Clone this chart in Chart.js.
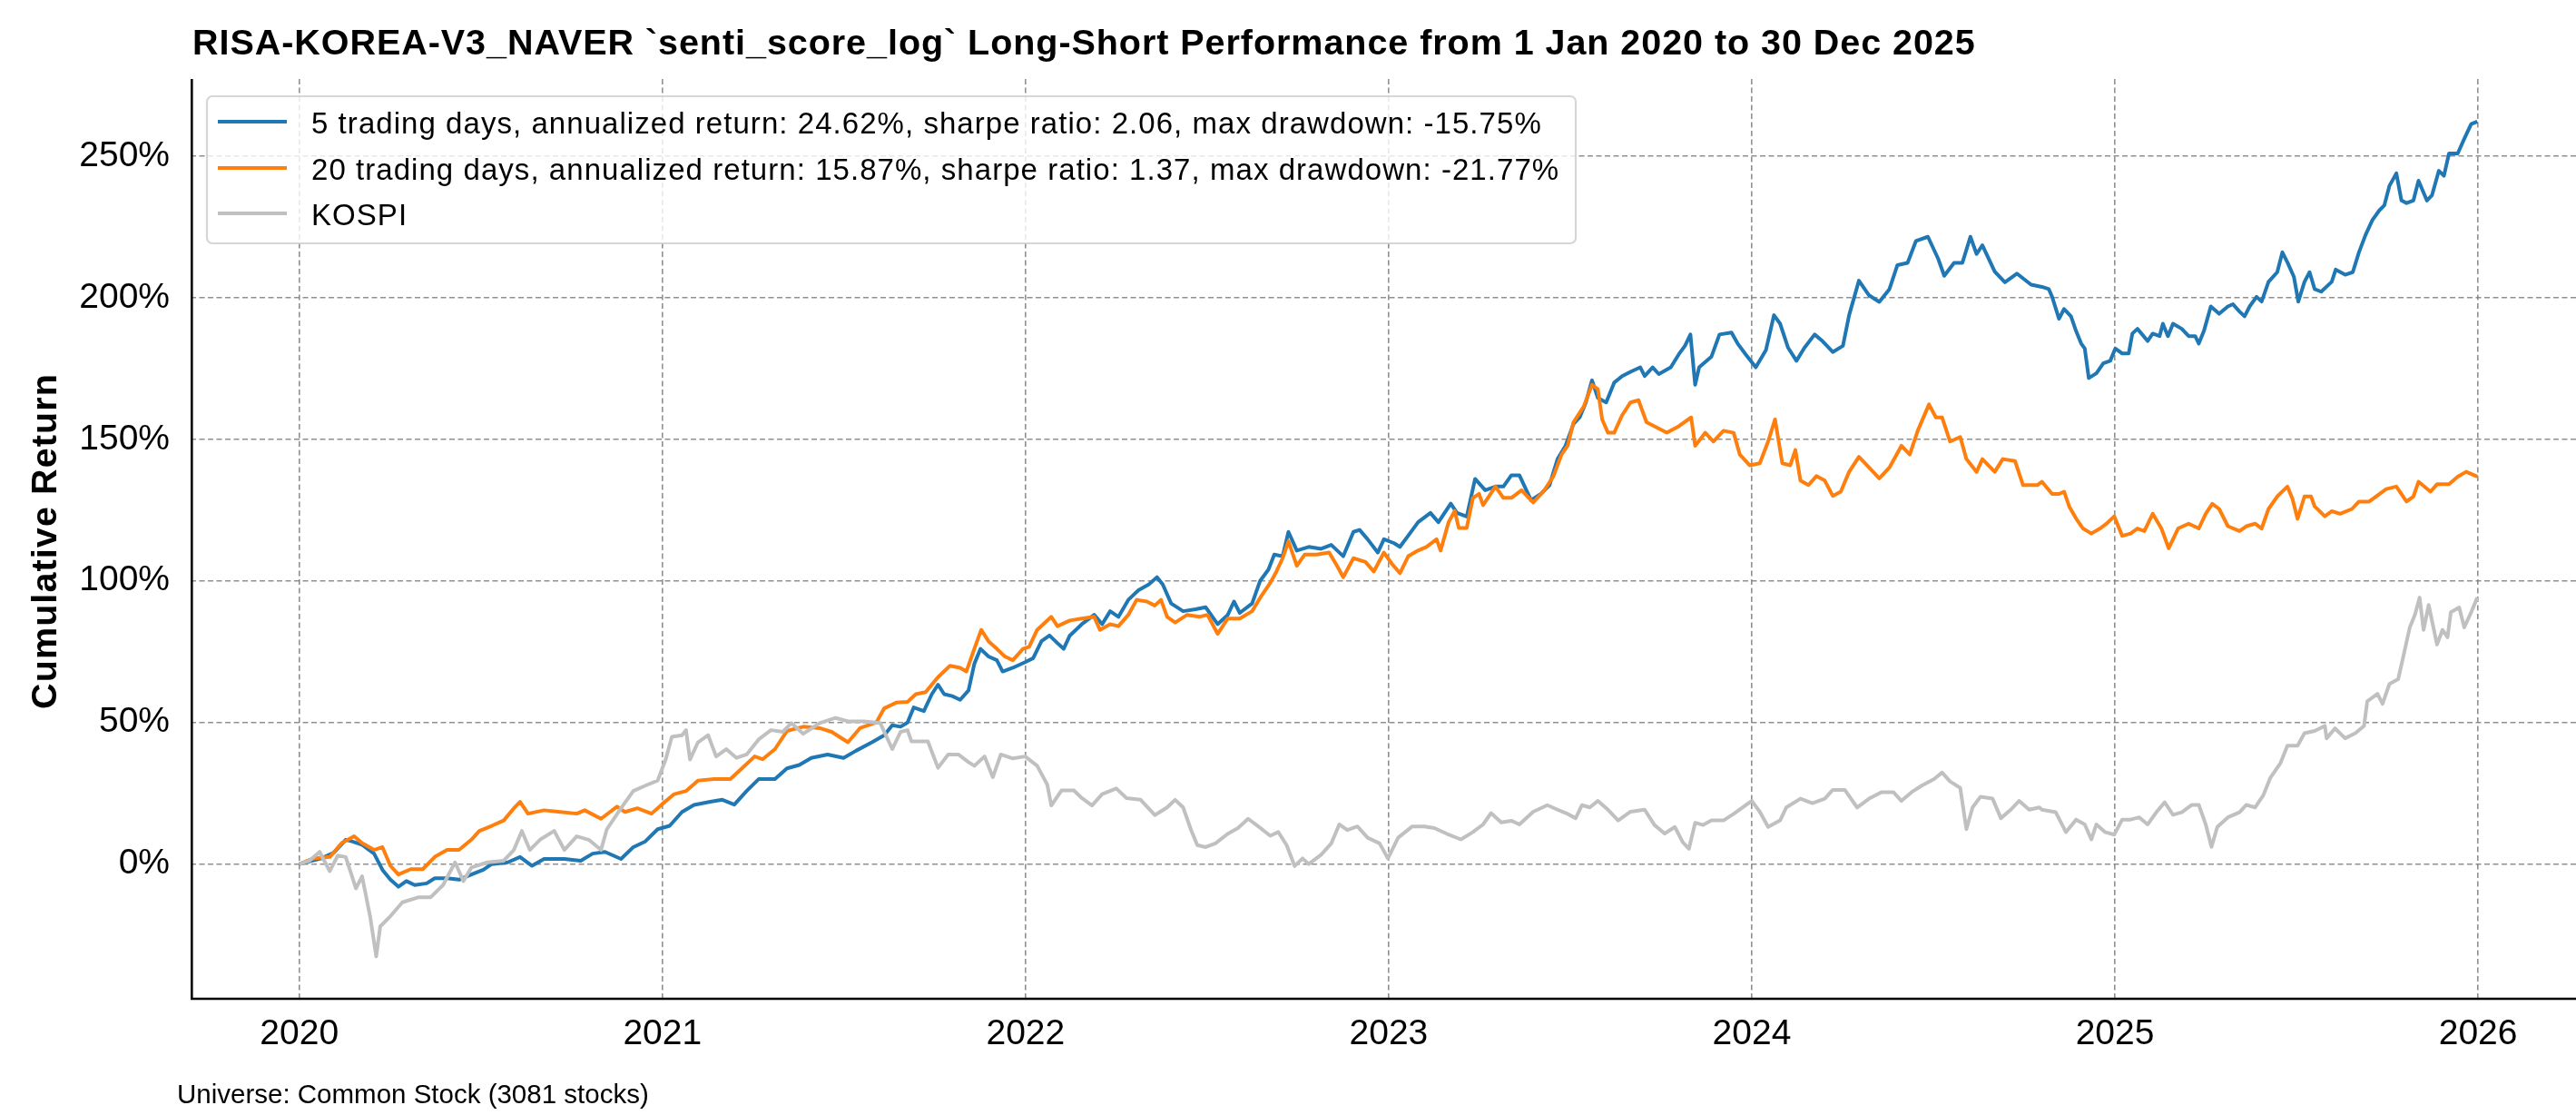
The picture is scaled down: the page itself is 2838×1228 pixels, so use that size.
<!DOCTYPE html>
<html>
<head>
<meta charset="utf-8">
<script src="https://cdn.jsdelivr.net/npm/chart.js@4.4.1/dist/chart.umd.min.js"></script>
<style>
  html, body { margin: 0; padding: 0; background: #ffffff; }
  canvas { display: block; }
</style>
</head>
<body>
<canvas id="c" width="2838" height="1228" style="width:2838px;height:1228px"></canvas>
<script>
// ---------- text ----------
const titleText = "RISA-KOREA-V3_NAVER `senti_score_log` Long-Short Performance from 1 Jan 2020 to 30 Dec 2025";
const yAxisTitle = "Cumulative Return";
const footnoteText = "Universe: Common Stock (3081 stocks)";
const seriesLabels = [
  "5 trading days, annualized return: 24.62%, sharpe ratio: 2.06, max drawdown: -15.75%",
  "20 trading days, annualized return: 15.87%, sharpe ratio: 1.37, max drawdown: -21.77%",
  "KOSPI"
];

// ---------- tick labels ----------
const yearTicks = [2020, 2021, 2022, 2023, 2024, 2025, 2026];
const returnTicks = [0, 50, 100, 150, 200, 250];

// ---------- series: 5 trading days (x = decimal year, y = cumulative return %) ----------
const fiveDayX = [
  2020.000,2020.061,2020.095,2020.128,2020.145,2020.173,2020.206,2020.229,2020.251,2020.273,
  2020.295,2020.318,2020.351,2020.373,2020.407,2020.440,2020.474,2020.507,2020.530,2020.574,
  2020.608,2020.641,2020.674,2020.730,2020.775,2020.808,2020.842,2020.886,2020.920,2020.953,
  2020.987,2021.020,2021.054,2021.087,2021.132,2021.165,2021.198,2021.232,2021.265,2021.310,
  2021.343,2021.377,2021.410,2021.455,2021.499,2021.533,2021.577,2021.611,2021.633,2021.656,
  2021.675,2021.692,2021.720,2021.742,2021.759,2021.776,2021.798,2021.820,2021.843,2021.859,
  2021.876,2021.898,2021.921,2021.937,2021.965,2021.999,2022.021,2022.044,2022.066,2022.088,
  2022.105,2022.122,2022.155,2022.189,2022.211,2022.233,2022.256,2022.283,2022.311,2022.339,
  2022.362,2022.378,2022.401,2022.434,2022.468,2022.496,2022.529,2022.557,2022.574,2022.590,
  2022.624,2022.646,2022.669,2022.685,2022.708,2022.724,2022.747,2022.780,2022.814,2022.842,
  2022.875,2022.903,2022.920,2022.942,2022.970,2022.987,2023.015,2023.031,2023.054,2023.081,
  2023.115,2023.137,2023.171,2023.188,2023.215,2023.238,2023.266,2023.294,2023.316,2023.338,
  2023.360,
  2023.392,2023.420,2023.443,2023.465,2023.487,2023.509,2023.526,2023.543,2023.560,2023.576,
  2023.599,2023.621,2023.643,2023.666,2023.693,2023.705,2023.727,2023.744,2023.777,2023.799,
  2023.816,2023.831,2023.844,2023.855,2023.889,2023.911,2023.944,2023.961,2023.983,2024.011,
  2024.039,2024.061,2024.078,2024.100,2024.123,2024.145,2024.173,2024.195,2024.223,2024.251,
  2024.268,2024.295,2024.323,2024.351,2024.379,2024.401,2024.429,2024.452,2024.485,2024.513,
  2024.530,2024.557,2024.580,2024.602,2024.619,2024.635,2024.669,2024.697,2024.730,2024.769,
  2024.799,2024.818,2024.827,2024.846,2024.860,2024.879,2024.893,2024.907,2024.917,2024.928,
  2024.949,2024.968,2024.987,2025.001,2025.020,2025.038,2025.048,2025.062,2025.090,2025.104,
  2025.123,2025.132,2025.146,2025.160,2025.184,2025.203,2025.221,2025.231,2025.245,2025.264,
  2025.287,2025.311,2025.325,2025.343,2025.357,2025.371,2025.390,2025.404,2025.423,2025.447,
  2025.461,2025.475,2025.493,2025.505,2025.522,2025.536,2025.550,2025.568,2025.597,2025.608,
  2025.634,2025.655,2025.672,2025.690,2025.709,2025.728,2025.742,2025.756,2025.775,2025.789,
  2025.803,2025.822,2025.836,2025.859,2025.873,2025.892,2025.906,2025.920,2025.944,2025.962,
  2025.981,2025.998
];
const fiveDayY = [
  0,2,4,8.6,8,6.8,3.7,-2,-5.5,-8,
  -6,-7.4,-6.8,-5,-5,-5.5,-3.7,-2,0,0.6,
  2.5,-0.6,1.8,1.8,1.2,3.7,4.3,1.8,6,8,
  12.3,13.5,18.4,20.9,22,22.7,21,25.8,30,30,
  33.8,35,37.5,38.7,37.5,40,43,45.5,49,48.5,
  50,55.3,54,60,63.3,60,59.3,58,61.3,70.7,
  76,73.3,72,68,69.3,71.3,72.7,78.7,80.7,78,
  76,80.7,84.7,88,84.7,89.3,87.3,93.3,96.7,98.7,
  101.3,98.7,92,89.3,90,90.7,84.7,88,92.7,88.7,
  92,100,104,109.3,108.7,117.3,110.7,112,111.3,112.7,
  108.7,117.3,118,114.7,110,114.7,113.3,112,116,120.7,
  124,120.7,127.3,124,122.7,136,132,133.3,133.3,137.3,
  137.3,
  128.5,130.8,133.8,143,147.7,155.4,157.7,163,170.8,164.6,
  163,170,172.3,173.8,175.4,172.3,175.4,173,175.4,180,
  183,187,169.2,175.4,179.2,187,187.7,183.8,180,175.4,
  181.5,193.8,190.8,182.3,177.7,182.3,187,184.6,180.8,183,
  193.8,206,200.8,198.5,203,211.5,212.3,220,221.5,213.8,
  207.7,212.3,212.3,221.5,215.4,218.5,209.2,205.4,208.5,204.6,
  203.8,203,200.3,192.5,196,193.4,188.2,183.8,182,171.6,
  173.3,176.8,177.7,182,180.3,180.3,187.3,189,184.7,187.3,
  186.4,190.8,186.4,190.8,189,186.4,186.4,183.8,188.2,196.9,
  194.3,196.9,197.7,195.1,193.4,196.9,200.3,198.6,205.6,209,
  216,212.5,207.3,198.6,205.6,209,203,202.1,205.6,209.9,
  208.1,209,216,222.1,227.4,230.8,232.6,239.5,243.9,234.3,
  233.4,234.3,241.3,234.3,236.1,244.8,243,250.9,250.9,256.1,
  261.3,262.2
];

// ---------- series: 20 trading days ----------
const twentyDayX = [
  2020.000,2020.039,2020.084,2020.117,2020.151,2020.173,2020.206,2020.229,2020.251,2020.273,
  2020.307,2020.340,2020.373,2020.407,2020.440,2020.474,2020.496,2020.530,2020.563,2020.591,
  2020.608,2020.630,2020.674,2020.719,2020.764,2020.786,2020.831,2020.875,2020.897,2020.931,
  2020.970,2020.998,2021.031,2021.065,2021.098,2021.143,2021.187,2021.221,2021.254,2021.276,
  2021.310,2021.343,2021.388,2021.433,2021.466,2021.511,2021.544,2021.589,2021.611,2021.644,
  2021.675,2021.698,2021.725,2021.759,2021.792,2021.820,2021.837,2021.859,2021.878,2021.898,
  2021.921,2021.943,2021.965,2021.993,2022.010,2022.032,2022.071,2022.088,2022.122,2022.155,
  2022.189,2022.205,2022.233,2022.256,2022.283,2022.306,2022.334,2022.356,2022.373,2022.390,
  2022.412,2022.445,2022.479,2022.501,2022.529,2022.557,2022.590,2022.624,2022.646,2022.674,
  2022.691,2022.708,2022.724,2022.747,2022.769,2022.802,2022.836,2022.858,2022.875,2022.903,
  2022.936,2022.959,2022.987,2023.009,2023.031,2023.054,2023.081,2023.104,2023.132,2023.143,
  2023.165,2023.182,2023.193,2023.215,2023.232,2023.249,2023.260,2023.294,2023.316,2023.338,
  2023.366,
  2023.398,2023.426,2023.454,2023.476,2023.493,2023.509,2023.537,2023.560,2023.576,2023.588,
  2023.604,2023.621,2023.643,2023.666,2023.688,2023.710,2023.744,2023.766,2023.799,2023.833,
  2023.844,2023.872,2023.894,2023.922,2023.950,2023.967,2023.994,2024.022,2024.045,2024.064,
  2024.084,2024.106,2024.120,2024.134,2024.156,2024.178,2024.201,2024.223,2024.245,2024.268,
  2024.295,2024.323,2024.351,2024.379,2024.412,2024.435,2024.457,2024.488,2024.507,2024.524,
  2024.546,2024.574,2024.591,2024.619,2024.635,2024.669,2024.691,2024.725,2024.747,2024.786,
  2024.799,2024.827,2024.846,2024.860,2024.874,2024.893,2024.912,2024.935,2024.959,2024.977,
  2024.998,2025.020,2025.043,2025.062,2025.081,2025.104,2025.128,2025.148,2025.174,2025.203,
  2025.231,2025.250,2025.268,2025.287,2025.311,2025.343,2025.362,2025.386,2025.404,2025.423,
  2025.447,2025.475,2025.489,2025.503,2025.522,2025.540,2025.550,2025.578,2025.597,2025.620,
  2025.653,2025.672,2025.700,2025.719,2025.747,2025.775,2025.803,2025.822,2025.836,2025.869,
  2025.887,2025.920,2025.944,2025.967,2025.998
];
const twentyDayY = [
  0,2,2.5,7.4,9.8,7.4,5,6,-0.6,-3.7,
  -1.8,-1.8,2.5,5,5,8.6,11.7,13.5,15.4,19.7,
  22,17.8,19,18.4,17.8,19,16,20.3,18.4,19.7,
  17.8,21,24.6,25.8,29.5,30,30,34,38,37,
  40.6,47,48.5,48,46.7,43,48,50,55,57,
  57.3,60,60.7,66,70,69.3,68,76,82.7,78.7,
  76,73.3,72,76,76.7,82.7,87.3,84,86,86.7,
  87.3,82.7,84.7,84,88,93.3,92.7,91.3,93.3,87.3,
  85.3,88,87.3,88,81.3,86.7,86.7,89.3,94,99.3,
  103.3,108,114,105.3,109.3,109.3,110,105.3,101.3,108,
  106.7,103.3,110,106,102.7,108.7,110.7,112,114.7,110.7,
  120.7,124.7,118.7,118.7,129.3,130.7,126.7,133.3,129.3,129.3,
  132,
  127.7,131.5,137,144.6,147.7,156,161.5,169.2,167.7,157,
  152.3,152.3,158.5,163,163.8,156,153.8,152.3,154.6,157.7,
  147.7,152.3,149.2,153,152.3,144.6,140.8,141.5,149.2,157,
  141.5,140.8,146.2,135.4,133.8,137,135.4,130,131.5,138.5,
  143.8,140,136.2,140,147.7,144.6,153,162.3,157.7,157.7,
  149.2,150.8,143,138.5,143,138.5,143,142.3,133.8,133.8,
  135,130.7,130.7,131.5,126.3,122,118.5,116.7,118.5,120.2,
  122.8,115.9,116.7,118.5,117.6,123.7,118.5,111.5,118.5,120.2,
  118.5,123.7,127.2,125.4,119.3,117.6,119.3,120.2,118.5,125.4,
  129.8,133.3,128.9,121.9,129.8,129.8,126.3,122.8,124.6,123.7,
  125.4,128,128,129.8,132.4,133.3,128,129.8,135,131.5,
  134.1,134.1,136.8,138.5,136.8
];

// ---------- series: KOSPI ----------
const kospiX = [
  2020.000,2020.028,2020.056,2020.084,2020.106,2020.128,2020.156,2020.173,2020.195,2020.212,
  2020.223,2020.251,2020.284,2020.329,2020.362,2020.396,2020.429,2020.452,2020.474,2020.518,
  2020.563,2020.591,2020.613,2020.635,2020.663,2020.702,2020.730,2020.764,2020.797,2020.831,
  2020.847,2020.886,2020.920,2020.953,2020.987,2021.009,2021.026,2021.054,2021.065,2021.076,
  2021.098,2021.126,2021.148,2021.176,2021.204,2021.232,2021.265,2021.299,2021.332,2021.355,
  2021.388,2021.433,2021.477,2021.511,2021.555,2021.600,2021.633,2021.656,
  2021.675,2021.686,2021.731,2021.759,2021.787,2021.815,2021.843,2021.859,2021.887,2021.910,
  2021.932,2021.965,2021.999,2022.032,2022.060,2022.071,2022.099,2022.133,2022.155,2022.183,
  2022.211,2022.250,2022.278,2022.317,2022.356,2022.390,2022.412,2022.434,2022.456,2022.473,
  2022.496,2022.523,2022.557,2022.585,2022.613,2022.641,2022.674,2022.696,2022.719,2022.741,
  2022.763,2022.780,2022.814,2022.842,2022.864,2022.886,2022.914,2022.942,2022.975,2022.998,
  2023.026,2023.065,2023.098,2023.126,2023.160,2023.199,2023.232,2023.260,2023.282,2023.310,
  2023.338,2023.360,
  2023.398,2023.437,2023.465,2023.493,2023.515,2023.532,2023.554,2023.576,2023.604,2023.632,
  2023.666,2023.705,2023.732,2023.760,2023.788,2023.810,2023.827,2023.844,2023.866,2023.889,
  2023.922,2023.950,2023.983,2024.000,2024.022,2024.045,2024.078,2024.095,2024.134,2024.167,
  2024.201,2024.223,2024.256,2024.290,2024.323,2024.357,2024.390,2024.412,2024.440,2024.468,
  2024.502,2024.524,2024.546,2024.574,2024.591,2024.608,2024.630,2024.663,2024.686,2024.713,
  2024.736,2024.764,2024.792,
  2024.799,2024.837,2024.865,2024.893,2024.917,2024.935,2024.949,2024.973,2024.998,2025.020,
  2025.043,2025.067,2025.090,2025.114,2025.137,2025.160,2025.184,2025.212,2025.231,2025.250,
  2025.266,2025.282,2025.311,2025.343,2025.362,2025.386,2025.409,2025.428,2025.456,2025.475,
  2025.503,2025.522,2025.550,2025.578,2025.583,2025.606,2025.634,2025.662,2025.686,2025.695,
  2025.723,2025.737,2025.756,2025.780,2025.794,2025.812,2025.826,2025.839,2025.850,2025.864,
  2025.887,2025.902,2025.916,2025.925,2025.948,2025.962,2025.981,2025.998
];
const kospiY = [
  0,1.2,4.3,-2.5,3,2.5,-8.6,-4.3,-18.4,-32.6,
  -22,-18.4,-13.5,-11.7,-11.7,-7.4,0.6,-6,-1.2,0.6,
  1.2,5,11.7,5,8.6,11.7,5,9.8,8.6,5,
  12.3,19.7,25.8,27.7,29.5,36.9,44.9,45.5,47.3,36.9,
  43,45.5,38,40.6,37.5,38.7,44,47.3,46.7,49.8,
  46,49.8,51.6,50.4,50.4,49.8,40.6,46.7,
  47.3,43.3,43.3,34,38.7,38.7,36,34.7,38,30.7,
  38.7,37.3,38,34.7,28,20.7,26,26,23.3,20.7,
  24.7,26.7,23.3,22.7,17.3,20,22.7,20,12,6.7,
  6,7.3,10.7,12.7,16,13.3,10,11.3,6.7,-0.7,
  2,0,3.3,7.3,14,12,13.3,9.3,7.3,2,
  9.3,13.3,13.3,12.7,10.7,8.7,11.3,14,18,14.7,
  15.3,14,
  18.5,20.8,19.2,17.7,16.2,20.8,20,22.3,19.2,15.4,
  18.5,19.2,13.8,10.8,13.1,7.7,5.4,14.6,13.8,15.4,
  15.4,17.7,20.8,22.3,18.5,13.1,15.4,20,23.1,21.5,
  23.1,26.2,26.2,20,23.1,25.4,25.4,22.3,25.4,27.7,
  30,32.3,29.2,26.9,12.3,20,23.8,23.1,16.2,19.2,
  22.3,19.2,20,
  19.2,18.3,11.3,15.7,14,8.7,14,11.3,10.4,15.7,
  15.7,16.5,14,18.3,21.8,17.4,18.3,20.9,20.9,14,
  6.1,13.1,16.5,18.3,20.9,20,24.4,30.5,35.7,41.8,
  41.8,46.2,47,48.8,44.4,47.9,44.4,46.2,48.8,57.5,
  60.1,56.6,63.6,65.3,73.2,83.6,88,94.1,82.7,91.5,
  77.5,82.7,80.1,88.9,90.6,83.6,88.9,94.1
];

// ---------- styling ----------
const FONT = '"Liberation Sans", Arial, Helvetica, sans-serif';
const COLORS = ['#1f77b4', '#ff7f0e', '#c0c0c0'];

function toPoints(xs, ys) {
  const n = Math.min(xs.length, ys.length);
  const out = [];
  for (let i = 0; i < n; i++) out.push({ x: xs[i], y: ys[i] });
  return out;
}

function setSpacing(ctx, px) {
  if ('letterSpacing' in ctx) ctx.letterSpacing = px + 'px';
}

const overlayPlugin = {
  id: 'overlay',
  afterDatasetsDraw(chart) {
    const { ctx, chartArea } = chart;
    ctx.save();
    ctx.strokeStyle = '#000000';
    ctx.lineWidth = 2.6;
    ctx.lineCap = 'butt';
    ctx.beginPath();
    ctx.moveTo(chartArea.left + 1.3, chartArea.top);
    ctx.lineTo(chartArea.left + 1.3, chartArea.bottom);
    ctx.moveTo(chartArea.left, chartArea.bottom);
    ctx.lineTo(chartArea.right, chartArea.bottom);
    ctx.stroke();
    ctx.restore();
  },
  afterDraw(chart) {
    const ctx = chart.ctx;
    ctx.save();
    // title
    ctx.fillStyle = '#000000';
    ctx.textAlign = 'left';
    ctx.textBaseline = 'alphabetic';
    ctx.font = 'bold 39.5px ' + FONT;
    setSpacing(ctx, 0.95);
    ctx.fillText(titleText, 212, 60);

    // y-axis title
    ctx.save();
    ctx.translate(62, 596);
    ctx.rotate(-Math.PI / 2);
    ctx.textAlign = 'center';
    ctx.font = 'bold 39.5px ' + FONT;
    setSpacing(ctx, 1.1);
    ctx.fillText(yAxisTitle, 0, 0);
    ctx.restore();

    // legend
    setSpacing(ctx, 0);
    const bx = 228, by = 106, bw = 1508, bh = 162;
    ctx.beginPath();
    ctx.roundRect(bx, by, bw, bh, 6);
    ctx.fillStyle = 'rgba(255,255,255,0.8)';
    ctx.fill();
    ctx.strokeStyle = 'rgba(204,204,204,0.8)';
    ctx.lineWidth = 2.2;
    ctx.stroke();
    const rowBase = [146.5, 197.5, 247.5];
    chart.data.datasets.forEach((ds, i) => {
      const yc = rowBase[i] - 12.5;
      ctx.strokeStyle = ds.borderColor;
      ctx.lineWidth = 4.2;
      ctx.beginPath();
      ctx.moveTo(240, yc);
      ctx.lineTo(316, yc);
      ctx.stroke();
      ctx.fillStyle = '#000000';
      ctx.font = '33px ' + FONT;
      setSpacing(ctx, 1.05);
      ctx.textAlign = 'left';
      ctx.textBaseline = 'alphabetic';
      ctx.fillText(ds.label, 343, rowBase[i]);
      setSpacing(ctx, 0);
    });

    // footnote
    ctx.font = '29.5px ' + FONT;
    ctx.fillStyle = '#000000';
    ctx.fillText(footnoteText, 195, 1215);
    ctx.restore();
  }
};

const gridColor = 'rgba(125,125,125,0.85)';

new Chart(document.getElementById('c').getContext('2d'), {
  type: 'line',
  data: {
    datasets: [
      { label: seriesLabels[0], data: toPoints(fiveDayX, fiveDayY), borderColor: COLORS[0], backgroundColor: COLORS[0], order: 3 },
      { label: seriesLabels[1], data: toPoints(twentyDayX, twentyDayY), borderColor: COLORS[1], backgroundColor: COLORS[1], order: 2 },
      { label: seriesLabels[2], data: toPoints(kospiX, kospiY), borderColor: COLORS[2], backgroundColor: COLORS[2], order: 1 }
    ]
  },
  options: {
    responsive: false,
    animation: false,
    devicePixelRatio: 1,
    layout: { padding: { top: 87, left: 0, right: 0, bottom: 0 } },
    elements: {
      point: { radius: 0, hoverRadius: 0 },
      line: { borderWidth: 4, tension: 0, borderJoinStyle: 'round', borderCapStyle: 'butt', fill: false }
    },
    plugins: {
      legend: { display: false },
      title: { display: false },
      tooltip: { enabled: false }
    },
    events: [],
    scales: {
      x: {
        type: 'linear',
        min: 2019.7008,
        max: 2026.2697,
        afterBuildTicks: (s) => { s.ticks = yearTicks.map(v => ({ value: v })); },
        afterFit: (s) => { s.height = 128; },
        grid: { color: gridColor, lineWidth: 1.6, drawTicks: false },
        border: { display: false, dash: [6, 3.5] },
        ticks: {
          color: '#000000',
          font: { family: FONT, size: 39 },
          padding: 16,
          maxRotation: 0,
          autoSkip: false,
          callback: (v) => String(v)
        }
      },
      y: {
        type: 'linear',
        min: -47.56,
        max: 277.2,
        afterBuildTicks: (s) => { s.ticks = returnTicks.map(v => ({ value: v })); },
        afterFit: (s) => { s.width = 210; },
        grid: { color: gridColor, lineWidth: 1.6, drawTicks: false },
        border: { display: false, dash: [6, 3.5] },
        ticks: {
          color: '#000000',
          font: { family: FONT, size: 39 },
          padding: 23,
          autoSkip: false,
          callback: (v) => v + '%'
        }
      }
    }
  },
  plugins: [overlayPlugin]
});
</script>
</body>
</html>
